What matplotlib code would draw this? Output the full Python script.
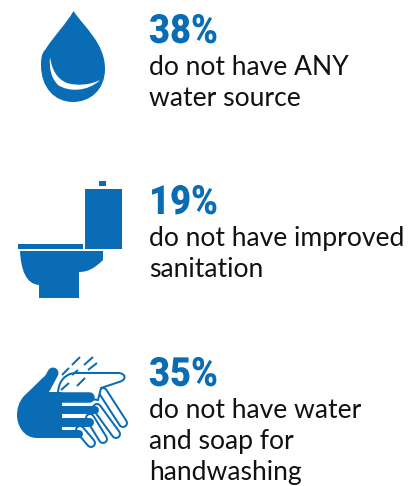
import matplotlib
matplotlib.use("Agg")
from matplotlib import pyplot as plt
from matplotlib.patches import PathPatch, Rectangle
from matplotlib.path import Path
from matplotlib.patheffects import AbstractPathEffect
from matplotlib.transforms import Affine2D

percents = [38, 19, 35]
captions = [
    ["do not have ANY", "water source"],
    ["do not have improved", "sanitation"],
    ["do not have water", "and soap for", "handwashing"],
]
number_baselines = [43, 214, 386]
first_line_baselines = [75, 246, 418]
line_step = 31
blue = "#0a6cb5"
px = 0.72  # points per pixel at dpi 100

fig = plt.figure(figsize=(4.15, 4.86), dpi=100)
ax = fig.add_axes([0, 0, 1, 1])
ax.set_xlim(0, 415)
ax.set_ylim(486, 0)
ax.axis("off")


class Squeeze(AbstractPathEffect):
    # no condensed bold is installed, so narrow the glyphs when they are drawn
    def __init__(self, x0, factor):
        super().__init__()
        self.x0, self.factor = x0, factor

    def draw_path(self, renderer, gc, tpath, affine, rgbFace=None):
        squeeze = Affine2D().translate(-self.x0, 0).scale(self.factor, 1).translate(self.x0, 0)
        renderer.draw_path(gc, tpath, affine + squeeze, rgbFace)


def shape(verts, codes, fc=blue, ec="none", lw=0, z=2):
    ax.add_patch(PathPatch(Path(verts, codes), fc=fc, ec=ec, lw=lw, zorder=z))


def capsule(a, b, width, z=1):
    xs, ys = [a[0], b[0]], [a[1], b[1]]
    ax.plot(xs, ys, color=blue, lw=width * px, solid_capstyle="round", zorder=z)
    ax.plot(xs, ys, color="white", lw=(width - 4) * px, solid_capstyle="round", zorder=z)


def bar(a, b, width, z=3):
    ax.plot([a[0], b[0]], [a[1], b[1]], color=blue, lw=width * px, solid_capstyle="round", zorder=z)


M, L, C, Z = Path.MOVETO, Path.LINETO, Path.CURVE4, Path.CLOSEPOLY

# water drop
shape(
    [(73.5, 11), (84, 27), (105, 43), (105, 69), (105, 90), (90, 102), (73, 102),
     (55, 102), (41, 88), (41, 65), (41, 52), (44, 52), (47, 47), (55, 35), (66, 24), (73.5, 11), (73.5, 11)],
    [M, C, C, C, C, C, C, C, C, C, C, C, C, C, C, L, Z],
)
shape(
    [(50, 57), (49, 68), (51, 78), (58, 85), (68, 92), (88, 92), (100, 80),
     (90, 85), (77, 86), (67, 83), (57, 79), (52, 70), (50, 57), (50, 57)],
    [M, C, C, C, C, C, C, C, C, C, C, C, C, Z],
    fc="white", z=3,
)

# toilet
ax.add_patch(Rectangle((99, 181), 7, 5, fc=blue))
ax.add_patch(Rectangle((85, 189), 37, 60, fc=blue))
ax.add_patch(Rectangle((18, 244), 65, 5, fc=blue))
shape(
    [(20, 251), (103, 251), (103, 260), (95, 268), (88, 272), (79, 272), (79, 298), (39, 298), (39, 285),
     (26, 284), (21, 270), (20, 251), (20, 251)],
    [M, L, L, C, C, C, L, L, L, C, C, C, Z],
)

# back hand, white fingers with a blue edge
capsule((80, 430), (91, 443), 10, z=1)
capsule((90, 418), (103, 439), 10, z=1.1)
capsule((97, 408), (116, 434), 10, z=1.2)
capsule((103, 392), (123, 423), 10, z=1.3)
shape(
    [(58, 394), (58, 381), (66, 373), (76, 373), (118, 373), (126, 373), (127, 380), (119, 382), (101, 388),
     (98, 400), (58, 394)],
    [M, C, C, C, L, C, C, C, L, L, L],
    fc="white", ec=blue, lw=2 * px, z=1.5,
)

# front hand
shape(
    [(52, 371), (43, 376), (36, 385), (25, 395), (18, 402), (17, 410), (17, 415), (17, 426), (24, 438), (37, 438),
     (62, 438), (62, 392), (47, 392), (52, 371)],
    [M, C, C, C, C, C, C, C, C, C, L, L, L, L],
)
bar((53, 373), (45, 388), 11)
bar((56, 397), (89, 397), 10.5)
bar((56, 410), (95, 410), 8)
bar((56, 421.5), (89, 421.5), 9)
bar((56, 434), (79, 434), 8)

dashes = [
    ((72, 365), (80, 357)), ((84, 365), (93, 357)), ((62, 375), (69, 368)), ((88, 370), (97, 363)),
    ((72, 375), (78, 370)), ((77, 386), (85, 378)), ((61, 390), (69, 383)),
]
for a, b in dashes:
    ax.plot([a[0], b[0]], [a[1], b[1]], color=blue, lw=2 * px, solid_capstyle="butt", zorder=4)

# labels
for pct, lines, ny, ty in zip(percents, captions, number_baselines, first_line_baselines):
    t = ax.text(149, ny, f"{pct}%", family="Roboto", weight="black", size=29, color=blue, va="baseline")
    t.set_path_effects([Squeeze(149, 0.9)])
    for i, line in enumerate(lines):
        ax.text(149, ty + i * line_step, line, family="Lato", size=19.1, color="#111111", va="baseline")

fig.savefig("out.png", dpi=100)
